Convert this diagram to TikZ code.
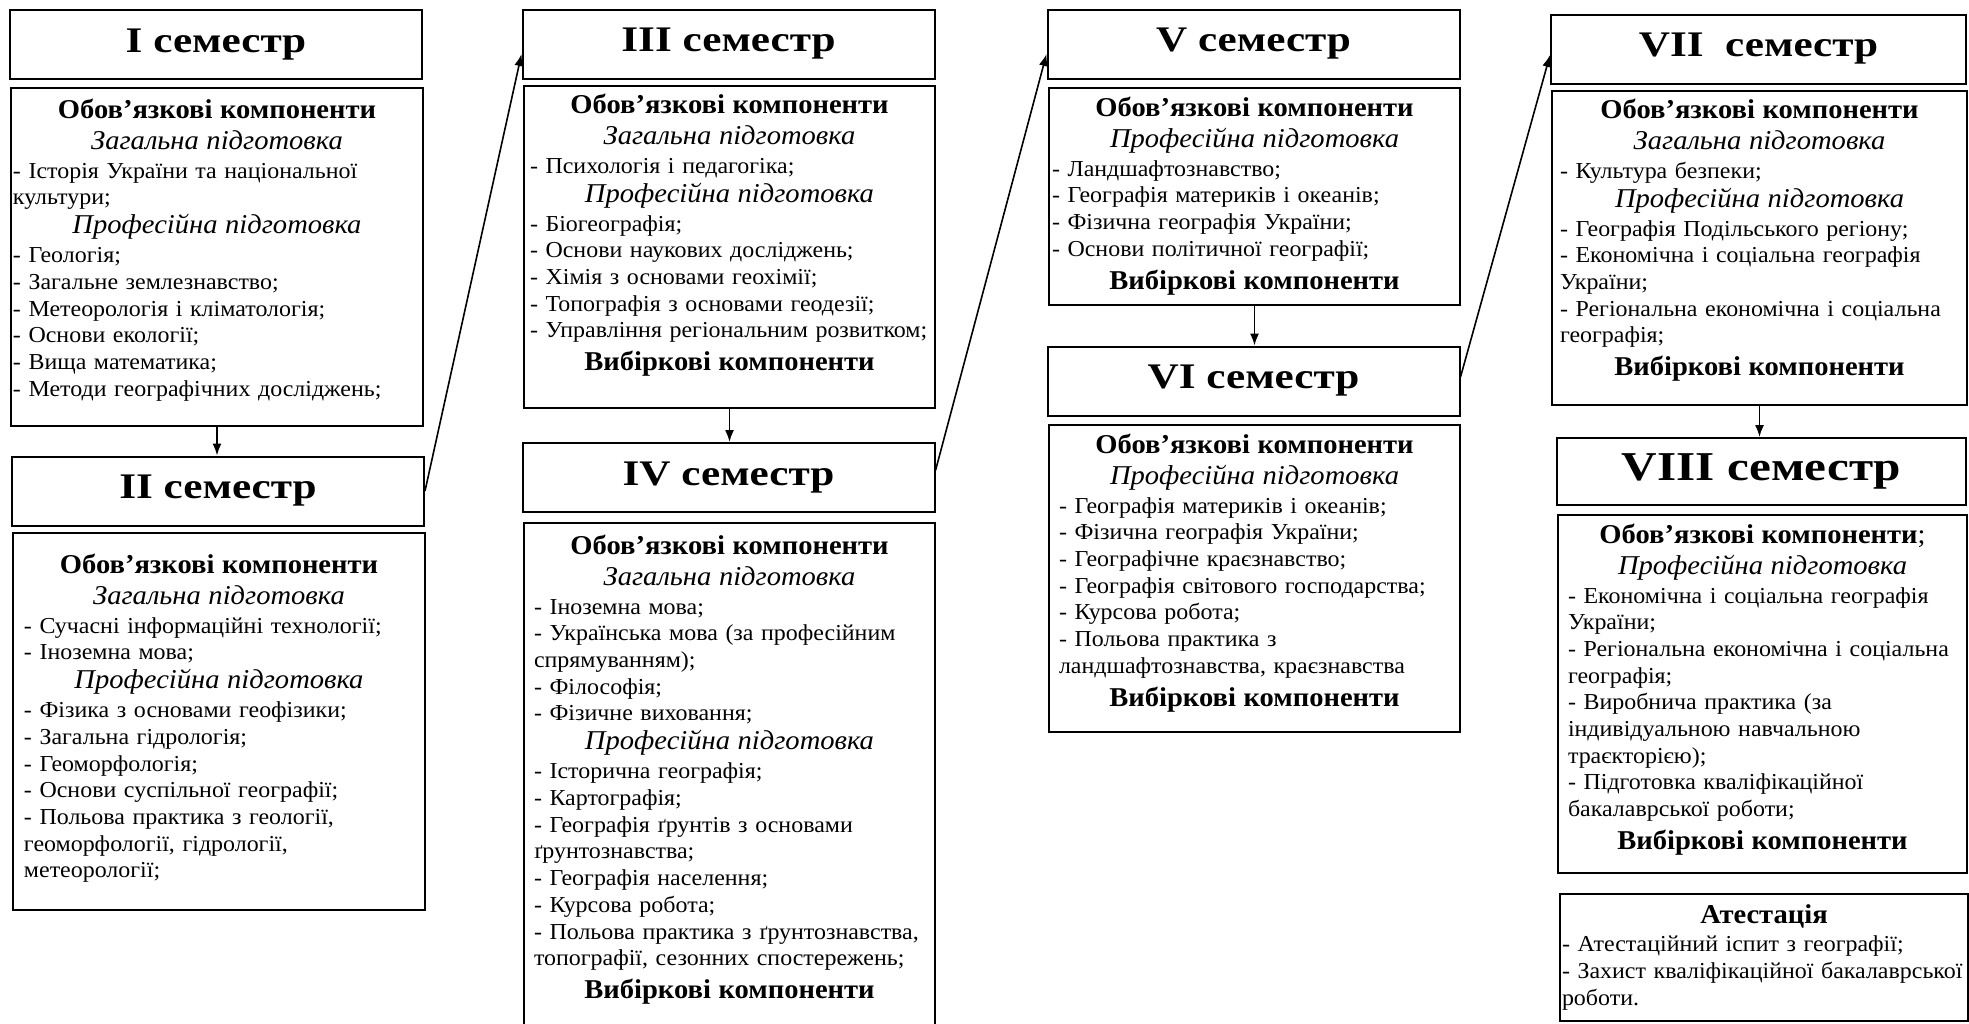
\documentclass[tikz,border=0pt]{standalone}
\usepackage{fontspec}
\setmainfont{Liberation Serif}[FakeStretch=1.05]
\newfontfamily\titlefont{Liberation Serif}[FakeStretch=1.2]
\usetikzlibrary{arrows.meta}

\newcommand{\grouphead}[1]{{\centering\bfseries\fontsize{13.6}{16.5}\selectfont #1\par}\vspace{1pt}}
\newcommand{\subhead}[1]{\par{\centering\itshape\fontsize{13.6}{14.5}\selectfont #1\par}\vspace{1.15pt}}
\newcommand{\elective}{\par{\centering\bfseries\fontsize{13.6}{16.5}\selectfont Вибіркові компоненти\par}}

\tikzset{
  semhead/.style={draw, line width=1pt, minimum width=206pt, minimum height=34.5pt,
    inner sep=0pt, font=\titlefont\bfseries\fontsize{18}{20}\selectfont},
  sembody/.style={draw, line width=1pt, anchor=north west, inner ysep=0pt,
    align=left, font=\fontsize{11.4}{13.35}\selectfont},
  link/.style={-{Latex[length=6pt,width=4.5pt]}, line width=0.8pt}
}

\begin{document}
\begin{tikzpicture}[x=0.5pt, y=-0.5pt]
\useasboundingbox[fill=white] (0,0) rectangle (1969,1023);

% semester titles
\node[semhead] (s1) at (216,44.5) {I семестр};
\node[semhead] (s2) at (218,491) {II семестр};
\node[semhead] (s3) at (728.5,44) {III семестр};
\node[semhead] (s4) at (728.5,477.5) {IV семестр};
\node[semhead] (s5) at (1253.5,44) {V семестр};
\node[semhead] (s6) at (1253.5,381) {VI семестр};
\node[semhead, minimum width=207.5pt] (s7) at (1758.5,49) {VII\ \ семестр};
\node[semhead, minimum width=204.5pt, minimum height=33.5pt,
  font=\titlefont\bfseries\fontsize{20.5}{22}\selectfont] (s8) at (1761.5,471.5) {VIII семестр};

% contents
\node[sembody, inner xsep=1pt, text width=204pt, text height=15pt, text depth=154pt] (b1) at (10,87) {%
\grouphead{Обов’язкові компоненти}
\subhead{Загальна підготовка}
- Історія України та національної\\культури;
\subhead{Професійна підготовка}
- Геологія;\\
- Загальне землезнавство;\\
- Метеорологія і кліматологія;\\
- Основи екології;\\
- Вища математика;\\
- Методи географічних досліджень;};

\node[sembody, inner xsep=5.5pt, text width=195pt, text height=20pt, text depth=168.5pt] (b2) at (12,532) {%
\grouphead{Обов’язкові компоненти}
\subhead{Загальна підготовка}
- Сучасні інформаційні технології;\\
- Іноземна мова;
\subhead{Професійна підготовка}
- Фізика з основами геофізики;\\
- Загальна гідрологія;\\
- Геоморфологія;\\
- Основи суспільної географії;\\
- Польова практика з геології,\\
геоморфології, гідрології,\\
метеорології;};

\node[sembody, inner xsep=3pt, text width=199.5pt, text height=13.5pt, text depth=147.5pt] (b3) at (523,85) {%
\grouphead{Обов’язкові компоненти}
\subhead{Загальна підготовка}
- Психологія і педагогіка;
\subhead{Професійна підготовка}
- Біогеографія;\\
- Основи наукових досліджень;\\
- Хімія з основами геохімії;\\
- Топографія з основами геодезії;\\
- Управління~регіональним~розвитком;
\elective};

\node[sembody, inner xsep=5pt, text width=195.5pt, text height=15.5pt, text depth=244.5pt] (b4) at (523,522) {%
\grouphead{Обов’язкові компоненти}
\subhead{Загальна підготовка}
- Іноземна мова;\\
- Українська мова (за професійним\\
спрямуванням);\\
- Філософія;\\
- Фізичне виховання;
\subhead{Професійна підготовка}
- Історична географія;\\
- Картографія;\\
- Географія ґрунтів з основами\\
ґрунтознавства;\\
- Географія населення;\\
- Курсова робота;\\
- Польова практика з ґрунтознавства,\\
топографії, сезонних спостережень;
\elective};

\node[sembody, inner xsep=1.5pt, text width=202.5pt, text height=14pt, text depth=94.5pt] (b5) at (1048,87) {%
\grouphead{Обов’язкові компоненти}
\subhead{Професійна підготовка}
- Ландшафтознавство;\\
- Географія материків і океанів;\\
- Фізична географія України;\\
- Основи політичної географії;
\elective};

\node[sembody, inner xsep=5pt, text width=195.5pt, text height=14pt, text depth=139.5pt] (b6) at (1048,424) {%
\grouphead{Обов’язкові компоненти}
\subhead{Професійна підготовка}
- Географія материків і океанів;\\
- Фізична географія України;\\
- Географічне краєзнавство;\\
- Географія світового господарства;\\
- Курсова робота;\\
- Польова практика з\\
ландшафтознавства, краєзнавства
\elective};

\node[sembody, inner xsep=4pt, text width=199.5pt, text height=13.5pt, text depth=143.5pt] (b7) at (1551,90) {%
\grouphead{Обов’язкові компоненти}
\subhead{Загальна підготовка}
- Культура безпеки;
\subhead{Професійна підготовка}
- Географія Подільського регіону;\\
- Економічна і соціальна географія\\
України;\\
- Регіональна економічна і соціальна\\
географія;
\elective};

\node[sembody, inner xsep=5pt, text width=194.5pt, text height=14pt, text depth=165pt] (b8) at (1557,514) {%
\grouphead{Обов’язкові компоненти\textmd{;}}
\subhead{Професійна підготовка}
- Економічна і соціальна географія\\
України;\\
- Регіональна економічна і соціальна\\
географія;\\
- Виробнича практика (за\\
індивідуальною навчальною\\
траєкторією);\\
- Підготовка кваліфікаційної\\
бакалаврської роботи;
\elective};

\node[sembody, inner xsep=1pt, text width=202pt, text height=14.5pt, text depth=49pt] (att) at (1559,893) {%
\grouphead{Атестація}
- Атестаційний іспит з географії;\\
- Захист кваліфікаційної бакалаврської\\
роботи.};

% arrows
\draw[link] (b1.south) -- (b1.south |- s2.north);
\draw[link] (b3.south) -- (b3.south |- s4.north);
\draw[link] (b5.south) -- (b5.south |- s6.north);
\draw[link] (b7.south) -- (b7.south |- s8.north);
\draw[link] (s2.east) -- ([yshift=-5pt]s3.west);
\draw[link] ([yshift=3.5pt]s4.east) -- ([yshift=-5pt]s5.west);
\draw[link] ([yshift=2pt]s6.east) -- ([yshift=-3pt]s7.west);
\end{tikzpicture}
\end{document}
